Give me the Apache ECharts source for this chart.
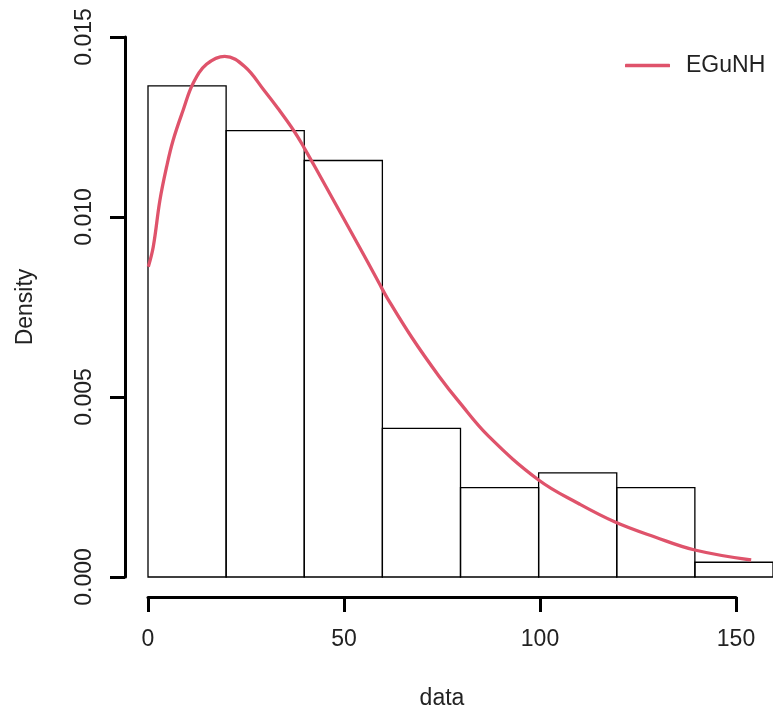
<!DOCTYPE html>
<html>
<head>
<meta charset="utf-8">
<title>EGuNH density fit</title>
<script src="https://cdn.jsdelivr.net/npm/echarts@6/dist/echarts.min.js"></script>
<style>
  html, body { margin: 0; padding: 0; background: #ffffff; }
  #chart { width: 773px; height: 715px; }
</style>
</head>
<body>
<div id="chart"></div>
<script>
// Histogram bins (left edge, right edge) and their densities
const binStarts = [0, 20, 40, 60, 80, 100, 120, 140];
const binEnds = [20, 40, 60, 80, 100, 120, 140, 160];
const binDensity = [0.01364, 0.01240, 0.01157, 0.00413, 0.00248, 0.00289, 0.00248, 0.00041];

// Fitted EGuNH density curve
const curveX = [0.08, 1.35, 3.06, 4.77, 6.45, 9.01, 11.56, 14.97, 19.64, 24.74, 29.85, 33.24, 37.5, 40.05,
  43.44, 47.7, 51.96, 56.2, 59.18, 61.3, 67.68, 74.49, 79.59, 87.24, 100.0, 110.2, 119.57, 129.77,
  139.97, 154.41];
const curveY = [0.008619, 0.009175, 0.010472, 0.011397, 0.012139, 0.012972, 0.013714, 0.014240, 0.014464,
  0.014181, 0.013500, 0.013019, 0.012369, 0.011908, 0.011258, 0.010425, 0.009592, 0.008758, 0.008158,
  0.007742, 0.006631, 0.005578, 0.004872, 0.003906, 0.002694, 0.002042, 0.001528, 0.001111, 0.000750,
  0.000472];

// Axis ticks
const xTicks = [0, 50, 100, 150];
const yTicks = [0, 0.005, 0.010, 0.015];

const FONT = '"Liberation Sans", Arial, Helvetica, sans-serif';
const TEXT_COLOR = '#222222';
const CURVE_COLOR = '#DF536B';

const histData = binStarts.map((s, i) => [s, binEnds[i], binDensity[i]]);
const curveData = curveX.map((x, i) => [x, curveY[i]]);

const chart = echarts.init(document.getElementById('chart'), null, { renderer: 'canvas' });

const option = {
  backgroundColor: '#ffffff',
  animation: false,
  textStyle: { fontFamily: FONT },
  legend: {
    data: [{ name: 'EGuNH', icon: 'roundRect' }],
    left: 620,
    top: 49,
    itemWidth: 45,
    itemHeight: 3.5,
    selectedMode: false,
    itemStyle: { color: CURVE_COLOR, borderWidth: 0 },
    textStyle: { fontFamily: FONT, fontSize: 23, color: TEXT_COLOR, padding: [0, 0, 0, 11] }
  },
  grid: [
    // plotting region (x 0..160, y 0..0.015)
    { left: 148, top: 37, width: 627.2, height: 540 },
    // bottom axis, spans 0..150 only
    { left: 148, top: 37, width: 588, height: 561 },
    // left axis, spans 0..0.015
    { left: 125, top: 37, width: 600, height: 540 }
  ],
  xAxis: [
    { gridIndex: 0, type: 'value', min: 0, max: 160, show: false },
    {
      gridIndex: 1, type: 'value', min: 0, max: 150, interval: 50,
      position: 'bottom',
      name: 'data', nameLocation: 'middle', nameGap: 90,
      nameTextStyle: { fontFamily: FONT, fontSize: 23, color: TEXT_COLOR },
      axisLine: { show: true, lineStyle: { color: '#000', width: 3 } },
      axisTick: { show: true, length: 15, lineStyle: { color: '#000', width: 3 } },
      axisLabel: { margin: 31, fontFamily: FONT, fontSize: 23, color: TEXT_COLOR,
        formatter: v => xTicks.includes(v) ? String(v) : '' },
      splitLine: { show: false }
    },
    { gridIndex: 2, type: 'value', min: 0, max: 1, show: false }
  ],
  yAxis: [
    { gridIndex: 0, type: 'value', min: 0, max: 0.015, show: false },
    { gridIndex: 1, type: 'value', min: 0, max: 1, show: false },
    {
      gridIndex: 2, type: 'value', min: 0, max: 0.015, interval: 0.005,
      position: 'left',
      name: 'Density', nameLocation: 'middle', nameGap: 88, nameRotate: 90,
      nameTextStyle: { fontFamily: FONT, fontSize: 23, color: TEXT_COLOR },
      axisLine: { show: true, lineStyle: { color: '#000', width: 3 } },
      axisTick: { show: true, length: 15, lineStyle: { color: '#000', width: 3 } },
      axisLabel: { margin: 29, rotate: 90, fontFamily: FONT, fontSize: 23, color: TEXT_COLOR,
        formatter: v => yTicks.some(t => Math.abs(t - v) < 1e-9) ? v.toFixed(3) : '' },
      splitLine: { show: false }
    }
  ],
  series: [
    {
      name: 'hist',
      type: 'custom',
      xAxisIndex: 0,
      yAxisIndex: 0,
      clip: false,
      data: histData,
      encode: { x: [0, 1], y: 2 },
      renderItem: function (params, api) {
        const p0 = api.coord([api.value(0), api.value(2)]);
        const p1 = api.coord([api.value(1), 0]);
        return {
          type: 'rect',
          shape: { x: p0[0], y: p0[1], width: p1[0] - p0[0], height: p1[1] - p0[1] },
          style: { fill: 'rgba(0,0,0,0)', stroke: '#000000', lineWidth: 1.3 }
        };
      },
      z: 1
    },
    {
      name: 'EGuNH',
      type: 'line',
      xAxisIndex: 0,
      yAxisIndex: 0,
      data: curveData,
      showSymbol: false,
      symbol: 'none',
      smooth: 0.4,
      lineStyle: { color: CURVE_COLOR, width: 3.3 },
      itemStyle: { color: CURVE_COLOR },
      z: 3
    }
  ]
};

chart.setOption(option);
</script>
</body>
</html>
